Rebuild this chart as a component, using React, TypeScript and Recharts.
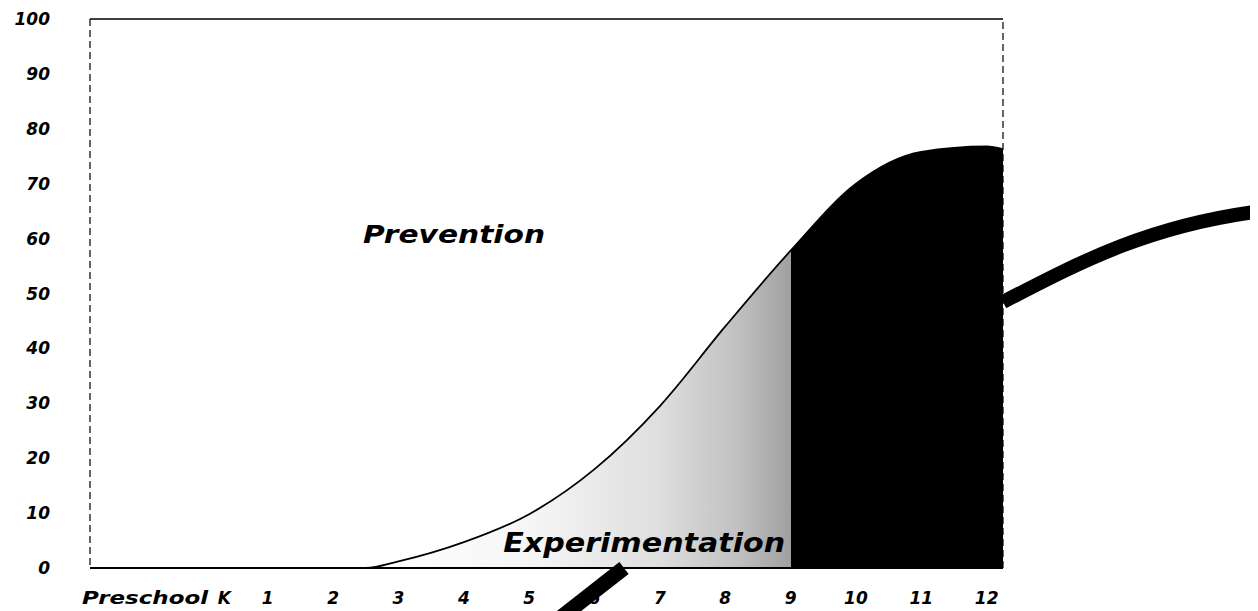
import { AreaChart, Area, XAxis, YAxis, ReferenceLine, ReferenceDot } from "recharts"

// grade on a number scale: Preschool = -1, K = 0
const grades = [-1, 0, 1, 2, 2.5, 3, 4, 5, 6, 7, 8, 9, 10, 11, 12, 12.25]
// percent of students
const percent = [0, 0, 0, 0, 0, 1.2, 4.7, 9.8, 18, 29.5, 44, 57.8, 70, 75.8, 76.8, 76.3]
// the solid black part starts here
const regularFrom = 9

const tickGrades = [-1, 0, 1, 2, 3, 4, 5, 6, 7, 8, 9, 10, 11, 12]
const tickLabels = ["Preschool", "K", "1", "2", "3", "4", "5", "6", "7", "8", "9", "10", "11", "12"]
const yTicks = [0, 10, 20, 30, 40, 50, 60, 70, 80, 90, 100]

const data = grades.map((g, i) => ({ grade: g, share: percent[i] }))

const font = "'DejaVu Sans', Verdana, sans-serif"

// shading under the curve: grey speckle getting darker, then solid black
const g0 = grades[0]
const g1 = grades[grades.length - 1]
const at = (g: number) => (g - g0) / (g1 - g0)
const shade: [number, string][] = [
  [2.5, "#ffffff"],
  [5, "#f6f6f6"],
  [7, "#dedede"],
  [8.2, "#c0c0c0"],
  [regularFrom, "#a0a0a0"],
  [regularFrom, "#000000"],
  [g1, "#000000"],
]

const tickShift: Record<string, number> = { Preschool: 71, K: 22 }

function GradeTick(props: any) {
  const { x, y, payload } = props
  const label = tickLabels[tickGrades.indexOf(payload.value)]
  if (!label) return null
  const isLong = label === "Preschool"
  return (
    <text
      x={x + (tickShift[label] ?? 0)}
      y={y}
      dy="0.71em"
      textAnchor={isLong ? "end" : "middle"}
      fontFamily={font}
      fontWeight={700}
      fontStyle="italic"
      fontSize={17}
      fill="#000"
      {...(isLong ? { textLength: 126, lengthAdjust: "spacingAndGlyphs" } : {})}
    >
      {label}
    </text>
  )
}

const annotation = (text: string, width: number, size: number) => (props: any) => {
  const { viewBox } = props
  const cx = viewBox.x + viewBox.width / 2
  const cy = viewBox.y + viewBox.height / 2
  return (
    <text
      x={cx}
      y={cy}
      textAnchor="middle"
      textLength={width}
      lengthAdjust="spacingAndGlyphs"
      fontFamily={font}
      fontWeight={700}
      fontStyle="italic"
      fontSize={size}
      fill="#000"
    >
      {text}
    </text>
  )
}

export default function App() {
  return (
    <div style={{ position: "relative", width: 1250, height: 603 }}>
      <AreaChart
        width={1250}
        height={603}
        data={data}
        margin={{ top: 11, right: 255, bottom: 3, left: 0 }}
      >
        <defs>
          <linearGradient id="shade" x1="0" y1="0" x2="1" y2="0">
            {shade.map(([g, c], i) => (
              <stop key={i} offset={at(g)} stopColor={c} />
            ))}
          </linearGradient>
        </defs>
        <XAxis
          type="number"
          dataKey="grade"
          domain={[-1.72, 12.25]}
          ticks={tickGrades}
          interval={0}
          allowDataOverflow
          tick={<GradeTick />}
          tickLine={false}
          tickMargin={18}
          height={40}
          axisLine={{ stroke: "#000", strokeWidth: 2 }}
        />
        <YAxis
          domain={[0, 100]}
          ticks={yTicks}
          width={82}
          tickLine={false}
          tickMargin={34}
          axisLine={{ stroke: "#000", strokeWidth: 1.2, strokeDasharray: "7 4" }}
          tick={{ fontFamily: font, fontWeight: 700, fontStyle: "italic", fontSize: 17, fill: "#000" }}
        />
        <ReferenceLine y={100} stroke="#000" strokeWidth={1.5} />
        <ReferenceLine x={12.25} stroke="#000" strokeWidth={1.2} strokeDasharray="7 4" />
        <Area
          dataKey="share"
          type="monotone"
          stroke="#000"
          strokeWidth={1.8}
          fill="url(#shade)"
          fillOpacity={1}
          dot={false}
          activeDot={false}
          isAnimationActive={false}
        />
        <ReferenceDot x={3.85} y={59.2} r={1} fill="none" stroke="none" label={annotation("Prevention", 182, 25)} />
        <ReferenceDot x={6.76} y={2.9} r={1} fill="none" stroke="none" label={annotation("Experimentation", 282, 26)} />
      </AreaChart>
      {/* decorative swoosh of the page layout, it passes behind the plot */}
      <svg
        width={1250}
        height={603}
        style={{ position: "absolute", left: 0, top: 0, pointerEvents: "none" }}
      >
        <path d="M 547 614 L 616 560" stroke="#000" strokeWidth={15} fill="none" />
        <path d="M 995 294 C 1072 254, 1142 217, 1254 203" stroke="#000" strokeWidth={14} fill="none" />
      </svg>
    </div>
  )
}
